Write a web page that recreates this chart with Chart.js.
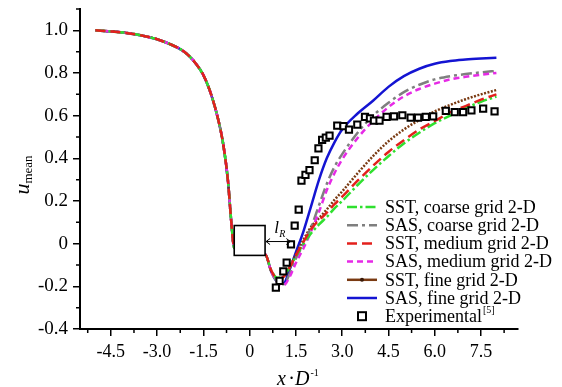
<!DOCTYPE html>
<html>
<head>
<meta charset="utf-8">
<script src="https://cdn.jsdelivr.net/npm/chart.js@4.4.1/dist/chart.umd.min.js"></script>
<style>
  body { margin: 0; background: #fff; }
</style>
</head>
<body>
<canvas id="wake" width="562" height="387"></canvas>
<script>
// upstream part of the centreline profile, the same for all six runs
const xUp = [-5, -4.5, -4, -3.5, -3, -2.5, -2.25, -2, -1.75, -1.5, -1.25, -1, -0.85, -0.7, -0.6, -0.5];
const uUp = [1.0, 0.995, 0.988, 0.976, 0.958, 0.93, 0.912, 0.885, 0.845, 0.79, 0.70, 0.57, 0.46, 0.29, 0.11, -0.02];

// wake part, x/D
const xWake = [0.5, 0.7, 0.9, 1.1, 1.3, 1.5, 1.75, 2.0, 2.25, 2.5, 2.75, 3.0, 3.5, 4.0, 4.5, 5.0, 5.5, 6.0, 6.5, 7.0, 7.5, 8.0];
const uSSTcoarse = [-0.05, -0.125, -0.16, -0.15, -0.11, -0.06, 0.0, 0.05, 0.09, 0.125, 0.165, 0.20, 0.275, 0.345, 0.41, 0.47, 0.52, 0.565, 0.60, 0.635, 0.665, 0.69];
const uSAScoarse = [-0.05, -0.13, -0.18, -0.19, -0.14, -0.07, 0.0, 0.08, 0.18, 0.28, 0.36, 0.42, 0.52, 0.60, 0.66, 0.71, 0.745, 0.77, 0.785, 0.795, 0.803, 0.81];
const uSSTmedium = [-0.05, -0.125, -0.165, -0.155, -0.11, -0.055, 0.01, 0.07, 0.11, 0.145, 0.185, 0.22, 0.295, 0.365, 0.43, 0.485, 0.535, 0.575, 0.615, 0.645, 0.675, 0.70];
const uSASmedium = [-0.05, -0.13, -0.18, -0.195, -0.155, -0.09, -0.02, 0.06, 0.15, 0.25, 0.33, 0.395, 0.495, 0.575, 0.64, 0.69, 0.725, 0.75, 0.77, 0.782, 0.792, 0.80];
const uSSTfine = [-0.05, -0.13, -0.17, -0.155, -0.11, -0.05, 0.02, 0.08, 0.12, 0.16, 0.205, 0.245, 0.33, 0.41, 0.48, 0.535, 0.58, 0.62, 0.65, 0.677, 0.70, 0.72];
const uSASfine = [-0.05, -0.13, -0.18, -0.185, -0.12, -0.04, 0.06, 0.18, 0.30, 0.40, 0.475, 0.535, 0.61, 0.67, 0.735, 0.785, 0.82, 0.843, 0.856, 0.863, 0.868, 0.872];

// experimental [5]
const xExp = [0.85, 0.97, 1.09, 1.20, 1.34, 1.46, 1.59, 1.68, 1.81, 1.94, 2.11, 2.23, 2.35, 2.47, 2.59, 2.84, 3.04, 3.22, 3.49, 3.74, 3.90, 4.03, 4.21, 4.44, 4.68, 4.95, 5.22, 5.46, 5.71, 5.95, 6.36, 6.65, 6.92, 7.19, 7.57, 7.94];
const uExp = [-0.206, -0.174, -0.13, -0.089, -0.003, 0.085, 0.16, 0.296, 0.322, 0.345, 0.391, 0.447, 0.487, 0.497, 0.506, 0.553, 0.551, 0.535, 0.558, 0.594, 0.587, 0.577, 0.577, 0.594, 0.597, 0.602, 0.591, 0.591, 0.594, 0.597, 0.622, 0.617, 0.617, 0.625, 0.633, 0.62];

const xTicks = [-4.5, -3, -1.5, 0, 1.5, 3, 4.5, 6, 7.5];
const xMinor = [-5.25, -3.75, -2.25, -0.75, 0.75, 2.25, 3.75, 5.25, 6.75, 8.25];
const yTicks = [-0.4, -0.2, 0, 0.2, 0.4, 0.6, 0.8, 1.0];
const yMinor = [-0.3, -0.1, 0.1, 0.3, 0.5, 0.7, 0.9, 1.1];

// cylinder box and recirculation length marker
const cyl = { x0: -0.5, x1: 0.5, y0: 0.085, y1: -0.055 };
const lR = { x: 1.32, y: 0.01 };

const serif = '"Liberation Serif", "Times New Roman", serif';

function curve(uWake) {
  const pts = xUp.map((x, i) => ({ x: x, y: uUp[i] }));
  return pts.concat(xWake.map((x, i) => ({ x: x, y: uWake[i] })));
}

function lineSet(label, u, color, dash, order) {
  return {
    label: label,
    data: curve(u),
    borderColor: color,
    borderWidth: 2.5,
    borderDash: dash,
    pointRadius: 0,
    cubicInterpolationMode: 'monotone',
    fill: false,
    order: order
  };
}

const datasets = [
  lineSet('SST, coarse grid 2-D', uSSTcoarse, '#2fe02f', [10, 3, 2.5, 3], 2),
  lineSet('SAS, coarse grid 2-D', uSAScoarse, '#7f7f7f', [11, 4, 3, 4], 4),
  lineSet('SST, medium grid 2-D', uSSTmedium, '#e3201c', [10, 5], 1),
  lineSet('SAS, medium grid 2-D', uSASmedium, '#e62ae6', [6, 4], 3),
  lineSet('SST, fine grid 2-D', uSSTfine, '#7a3a12', [2, 1.5], 5),
  lineSet('SAS, fine grid 2-D', uSASfine, '#1414d2', [], 6),
  {
    label: 'Experimental',
    data: xExp.map((x, i) => ({ x: x, y: uExp[i] })),
    showLine: false,
    pointStyle: 'rect',
    pointRadius: 4.4,
    pointBorderWidth: 2,
    pointBorderColor: '#000',
    pointBackgroundColor: '#fff',
    order: 0
  }
];

const extras = {
  id: 'extras',
  afterDatasetsDraw(chart) {
    const { ctx, scales: { x, y } } = chart;
    ctx.save();
    // cylinder
    const bx0 = x.getPixelForValue(cyl.x0), bx1 = x.getPixelForValue(cyl.x1);
    const by0 = y.getPixelForValue(cyl.y0), by1 = y.getPixelForValue(cyl.y1);
    ctx.fillStyle = '#fff';
    ctx.fillRect(bx0, by0, bx1 - bx0, by1 - by0);
    ctx.strokeStyle = '#000';
    ctx.lineWidth = 1.6;
    ctx.strokeRect(bx0, by0, bx1 - bx0, by1 - by0);

    // double arrow l_R
    const ay = y.getPixelForValue(lR.y);
    const ax0 = bx1 + 1, ax1 = x.getPixelForValue(lR.x);
    ctx.lineWidth = 1;
    ctx.beginPath();
    ctx.moveTo(ax0, ay); ctx.lineTo(ax1, ay);
    ctx.moveTo(ax0 + 4, ay - 3); ctx.lineTo(ax0, ay); ctx.lineTo(ax0 + 4, ay + 3);
    ctx.moveTo(ax1 - 4, ay - 3); ctx.lineTo(ax1, ay); ctx.lineTo(ax1 - 4, ay + 3);
    ctx.stroke();
    ctx.fillStyle = '#000';
    ctx.textAlign = 'left';
    ctx.textBaseline = 'alphabetic';
    const mid = (ax0 + ax1) / 2;
    ctx.font = 'italic 17px ' + serif;
    ctx.fillText('l', mid - 4, ay - 9);
    ctx.font = 'italic 10px ' + serif;
    ctx.fillText('R', mid + 1, ay - 5);
    ctx.restore();
  },
  afterDraw(chart) {
    const { ctx, chartArea: a, scales: { x, y } } = chart;
    ctx.save();
    // minor ticks
    ctx.strokeStyle = '#000';
    ctx.lineWidth = 1.5;
    ctx.beginPath();
    xMinor.forEach(v => {
      const px = x.getPixelForValue(v);
      ctx.moveTo(px, a.bottom); ctx.lineTo(px, a.bottom + 4);
    });
    yMinor.forEach(v => {
      const py = y.getPixelForValue(v);
      ctx.moveTo(a.left, py); ctx.lineTo(a.left - 4, py);
    });
    ctx.stroke();

    ctx.fillStyle = '#000';
    ctx.textBaseline = 'alphabetic';
    ctx.textAlign = 'left';

    // y title: u_mean
    ctx.save();
    ctx.translate(0, 175);
    ctx.rotate(-Math.PI / 2);
    ctx.font = 'italic 22px ' + serif;
    const wu = ctx.measureText('u').width;
    ctx.font = '13px ' + serif;
    const wm = ctx.measureText('mean').width;
    const start = -(wu + wm) / 2;
    ctx.font = 'italic 22px ' + serif;
    ctx.fillText('u', start, 29);
    ctx.font = '13px ' + serif;
    ctx.fillText('mean', start + wu, 32);
    ctx.restore();

    // x title: x·D^-1
    ctx.font = 'italic 20px ' + serif;
    ctx.fillText('x', 277, 385);
    ctx.font = '20px ' + serif;
    ctx.textAlign = 'center';
    ctx.fillText('\u00b7', 291.5, 385);
    ctx.textAlign = 'left';
    ctx.font = 'italic 20px ' + serif;
    ctx.fillText('D', 295, 385);
    const wd = ctx.measureText('D').width;
    ctx.font = '10px ' + serif;
    ctx.fillText('-1', 295 + wd + 1, 376);

    // legend
    const lx0 = 347, lx1 = 377, tx = 385, ly0 = 207, step = 18.2;
    chart.data.datasets.forEach((ds, i) => {
      const cy = ly0 + i * step;
      if (ds.showLine === false) {
        ctx.lineWidth = 2;
        ctx.strokeStyle = '#000';
        ctx.fillStyle = '#fff';
        ctx.fillRect((lx0 + lx1) / 2 - 4, cy - 4, 8, 8);
        ctx.strokeRect((lx0 + lx1) / 2 - 4, cy - 4, 8, 8);
      } else {
        ctx.lineWidth = ds.borderWidth;
        ctx.strokeStyle = ds.borderColor;
        const fine = ds.label.indexOf('SST, fine') === 0;
        ctx.setLineDash(fine ? [] : ds.borderDash);
        ctx.beginPath();
        ctx.moveTo(lx0, cy); ctx.lineTo(lx1, cy);
        ctx.stroke();
        ctx.setLineDash([]);
        if (fine) {
          ctx.fillStyle = '#3a1a08';
          ctx.beginPath();
          ctx.arc((lx0 + lx1) / 2, cy, 2, 0, Math.PI * 2);
          ctx.fill();
        }
      }
      ctx.fillStyle = '#000';
      ctx.font = '18px ' + serif;
      ctx.textBaseline = 'middle';
      ctx.fillText(ds.label, tx, cy + 1);
      if (ds.showLine === false) {
        const w = ctx.measureText(ds.label).width;
        ctx.font = '10px ' + serif;
        ctx.fillText('[5]', tx + w + 1, cy - 6);
      }
    });
    ctx.restore();
  }
};

new Chart(document.getElementById('wake'), {
  type: 'line',
  data: { datasets: datasets },
  options: {
    responsive: false,
    animation: false,
    layout: { padding: { top: 9, right: 44, left: 0, bottom: 0 } },
    plugins: {
      legend: { display: false },
      tooltip: { enabled: false }
    },
    scales: {
      x: {
        type: 'linear',
        min: -5.5,
        max: 8.7,
        afterBuildTicks: s => { s.ticks = xTicks.map(v => ({ value: v })); },
        afterFit: s => { s.height = 58; s.paddingLeft = 0; s.paddingRight = 0; },
        ticks: {
          autoSkip: false,
          maxRotation: 0,
          padding: 5,
          color: '#000',
          font: { family: serif, size: 18 },
          callback: v => v === 0 ? '0' : v.toFixed(1)
        },
        grid: { drawOnChartArea: false, tickLength: 7, color: '#000', lineWidth: 1.5 },
        border: { color: '#000', width: 2 }
      },
      y: {
        type: 'linear',
        min: -0.4,
        max: 1.1,
        afterBuildTicks: s => { s.ticks = yTicks.map(v => ({ value: v })); },
        afterFit: s => { s.width = 80; s.paddingTop = 0; s.paddingBottom = 0; },
        ticks: {
          padding: 5,
          color: '#000',
          font: { family: serif, size: 19 },
          callback: v => v === 0 ? '0' : v.toFixed(1)
        },
        grid: { drawOnChartArea: false, tickLength: 7, color: '#000', lineWidth: 1.5 },
        border: { color: '#000', width: 2 }
      }
    }
  },
  plugins: [extras]
});
</script>
</body>
</html>
